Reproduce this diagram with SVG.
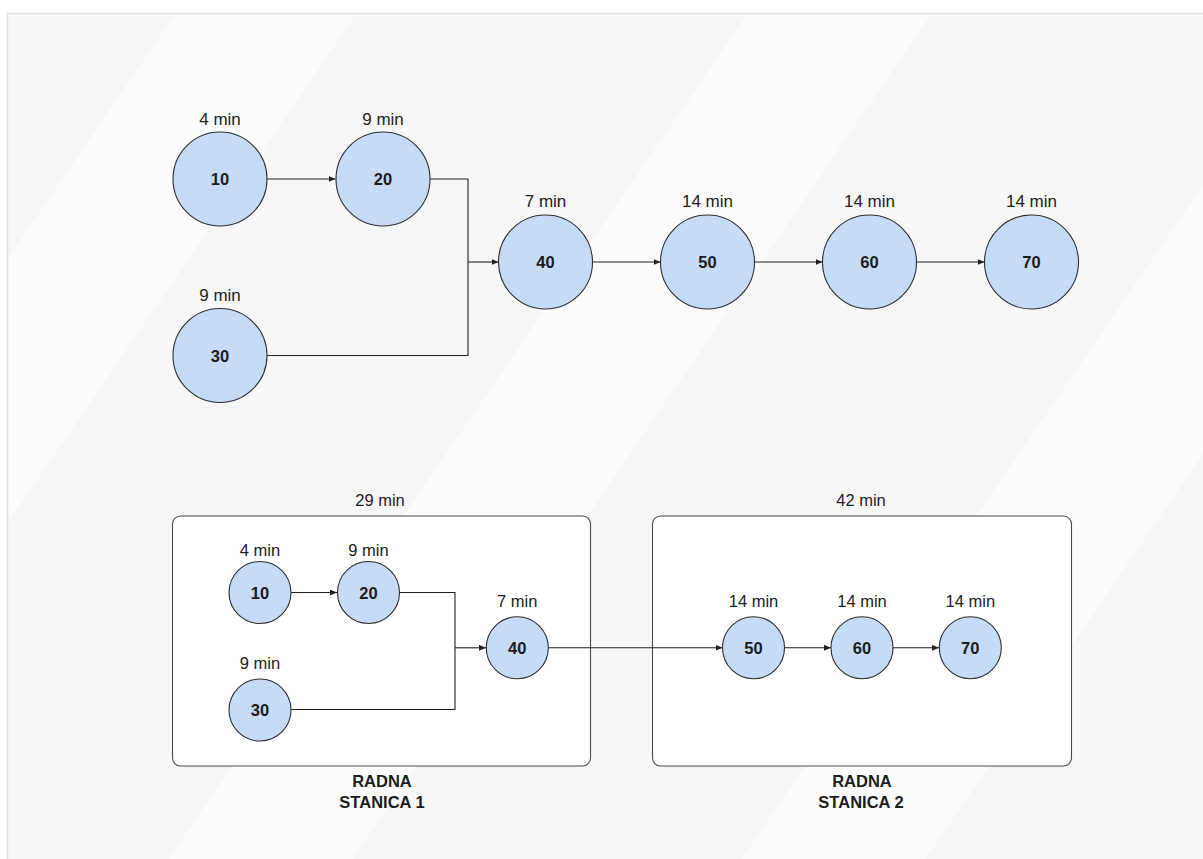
<svg xmlns="http://www.w3.org/2000/svg" width="1203" height="859" viewBox="0 0 1203 859">
<defs>
<style>
.node{fill:#c6dbf8;stroke:#2e2e2e;stroke-width:1.1}
.num{font-family:"Liberation Sans",Arial,sans-serif;font-weight:bold;font-size:16.5px;fill:#1c1c1c;text-anchor:middle}
.lbl{font-family:"Liberation Sans",Arial,sans-serif;font-size:17px;fill:#222;text-anchor:middle}
.lbls{font-family:"Liberation Sans",Arial,sans-serif;font-size:16.5px;fill:#222;text-anchor:middle}
.ttl{font-family:"Liberation Sans",Arial,sans-serif;font-weight:bold;font-size:16.5px;fill:#1c1c1c;text-anchor:middle}
.box{fill:#ffffff;stroke:#4a4a4a;stroke-width:1.1}
.edge{fill:none;stroke:#222;stroke-width:1.1}
.stripe{fill:#fcfcfc}
</style>
<marker id="arr" markerUnits="userSpaceOnUse" markerWidth="8" markerHeight="6" refX="7" refY="3" orient="auto">
<path d="M0,0 L7,3 L0,6 z" fill="#222"/>
</marker>
<clipPath id="frameClip"><rect x="7" y="13" width="1196" height="846"/></clipPath>
</defs>

<rect x="0" y="0" width="1203" height="859" fill="#ffffff"/>
<g id="background" clip-path="url(#frameClip)">
<rect x="7" y="13" width="1196" height="846" fill="#f7f7f7"/>
<polygon class="stripe" points="176,13 357,13 -222.5,859 -403.5,859"/>
<polygon class="stripe" points="748,13 932,13 352.5,859 168.5,859"/>
<polygon class="stripe" points="1321,13 1505,13 925.5,859 741.5,859"/>
</g>
<path d="M7.5,860 V13.5 H1204" fill="none" stroke="#e0e0e0" stroke-width="1.5"/>

<g id="station1">
<rect class="box" x="172.5" y="516" width="418" height="250" rx="8"/>
<text class="lbls" x="380" y="506">29 min</text>
<text class="ttl" x="382" y="787">RADNA</text>
<text class="ttl" x="382" y="808">STANICA 1</text>
</g>
<g id="station2">
<rect class="box" x="652.5" y="516" width="419" height="250" rx="8"/>
<text class="lbls" x="861" y="506">42 min</text>
<text class="ttl" x="862" y="787">RADNA</text>
<text class="ttl" x="861" y="808">STANICA 2</text>
</g>

<g id="connectors">
<path class="edge" d="M267,179 H335.5" marker-end="url(#arr)"/>
<path class="edge" d="M430,179 H468 V262"/>
<path class="edge" d="M267,355.5 H468 V262"/>
<path class="edge" d="M468,262 H498.5" marker-end="url(#arr)"/>
<path class="edge" d="M592.5,262 H660.5" marker-end="url(#arr)"/>
<path class="edge" d="M754.5,262 H822.5" marker-end="url(#arr)"/>
<path class="edge" d="M916.5,262 H984.5" marker-end="url(#arr)"/>

<path class="edge" d="M291,592.5 H337" marker-end="url(#arr)"/>
<path class="edge" d="M399.5,592.5 H455 V647.8"/>
<path class="edge" d="M291,709.5 H455 V647.8"/>
<path class="edge" d="M455,647.8 H486" marker-end="url(#arr)"/>
<path class="edge" d="M548.5,647.8 H722.5" marker-end="url(#arr)"/>
<path class="edge" d="M784.5,647.8 H831" marker-end="url(#arr)"/>
<path class="edge" d="M893,647.8 H939" marker-end="url(#arr)"/>
</g>

<g id="n10">
<circle class="node" cx="220" cy="179" r="47"/>
<text class="num" x="220" y="185">10</text>
<text class="lbl" x="220" y="124.5">4 min</text>
</g>
<g id="n20">
<circle class="node" cx="383" cy="179" r="47"/>
<text class="num" x="383" y="185">20</text>
<text class="lbl" x="383" y="124.5">9 min</text>
</g>
<g id="n30">
<circle class="node" cx="220" cy="355.5" r="47"/>
<text class="num" x="220" y="361.5">30</text>
<text class="lbl" x="220" y="300.5">9 min</text>
</g>
<g id="n40">
<circle class="node" cx="545.5" cy="262" r="47"/>
<text class="num" x="545.5" y="268">40</text>
<text class="lbl" x="545.5" y="207">7 min</text>
</g>
<g id="n50">
<circle class="node" cx="707.5" cy="262" r="47"/>
<text class="num" x="707.5" y="268">50</text>
<text class="lbl" x="707.5" y="206.5">14 min</text>
</g>
<g id="n60">
<circle class="node" cx="869.5" cy="262" r="47"/>
<text class="num" x="869.5" y="268">60</text>
<text class="lbl" x="869.5" y="206.5">14 min</text>
</g>
<g id="n70">
<circle class="node" cx="1031.5" cy="262" r="47"/>
<text class="num" x="1031.5" y="268">70</text>
<text class="lbl" x="1031.5" y="206.5">14 min</text>
</g>

<g id="s1n10">
<circle class="node" cx="260" cy="592.5" r="31"/>
<text class="num" x="260" y="598.5">10</text>
<text class="lbls" x="260" y="556">4 min</text>
</g>
<g id="s1n20">
<circle class="node" cx="368.5" cy="592.5" r="31"/>
<text class="num" x="368.5" y="598.5">20</text>
<text class="lbls" x="368.5" y="556">9 min</text>
</g>
<g id="s1n30">
<circle class="node" cx="260" cy="710" r="31"/>
<text class="num" x="260" y="716">30</text>
<text class="lbls" x="260" y="668.7">9 min</text>
</g>
<g id="s1n40">
<circle class="node" cx="517.3" cy="647.8" r="31"/>
<text class="num" x="517.3" y="653.8">40</text>
<text class="lbls" x="517.3" y="606.7">7 min</text>
</g>
<g id="s2n50">
<circle class="node" cx="753.5" cy="647.8" r="31"/>
<text class="num" x="753.5" y="653.8">50</text>
<text class="lbls" x="753.5" y="607">14 min</text>
</g>
<g id="s2n60">
<circle class="node" cx="862" cy="647.8" r="31"/>
<text class="num" x="862" y="653.8">60</text>
<text class="lbls" x="862" y="607">14 min</text>
</g>
<g id="s2n70">
<circle class="node" cx="970.3" cy="647.8" r="31"/>
<text class="num" x="970.3" y="653.8">70</text>
<text class="lbls" x="970.3" y="607">14 min</text>
</g>
</svg>
